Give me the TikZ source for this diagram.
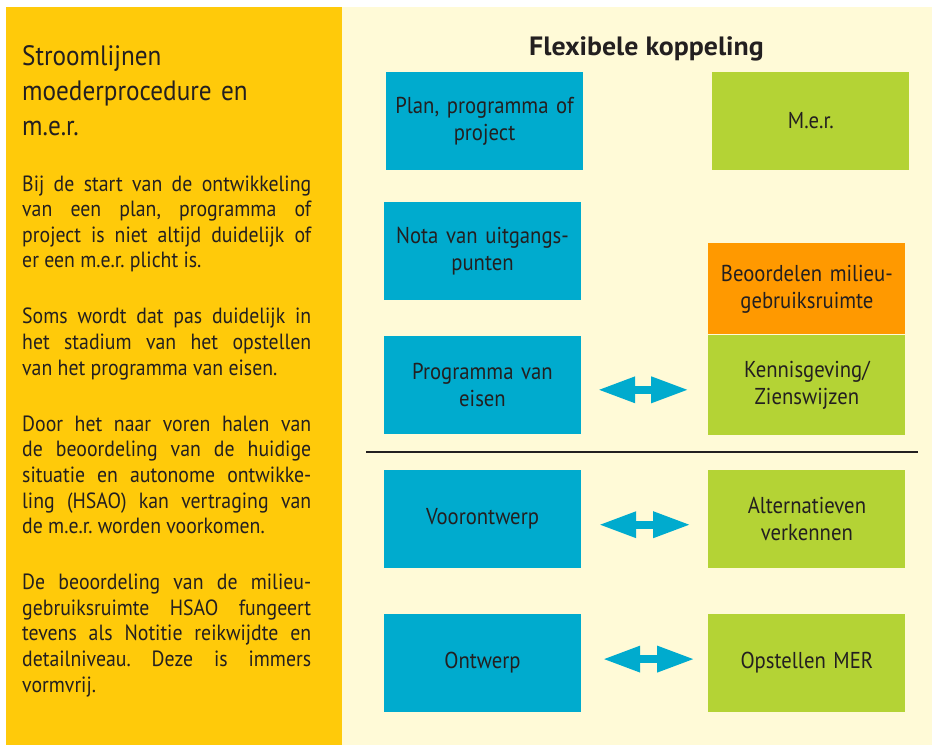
\documentclass[tikz,border=0pt]{standalone}
\usepackage{fontspec}
\setmainfont{PT Sans}[FakeStretch=0.9]
\newfontfamily\headfont{PT Sans}[FakeStretch=1.05]
\usetikzlibrary{positioning,arrows.meta}

\definecolor{panelyellow}{HTML}{FFCA0A}
\definecolor{panelcream}{HTML}{FFFAD7}
\definecolor{planblue}{HTML}{00ABCE}
\definecolor{mergreen}{HTML}{B4D335}
\definecolor{evalorange}{HTML}{FF9900}
\definecolor{textdark}{HTML}{231F20}

\begin{document}
\begin{tikzpicture}[
    x=1pt, y=-1pt,
    box/.style={
        rectangle,
        minimum height=98pt,
        minimum width=197pt,
        text width=190pt,
        inner sep=0pt,
        align=center,
        text=textdark,
        font=\fontsize{23}{27}\selectfont
    },
    bluebox/.style={box, fill=planblue},
    greenbox/.style={box, fill=mergreen},
    orangebox/.style={box, fill=evalorange, minimum height=91pt},
    twoway/.style={
        {Triangle[length=36pt,width=27pt,line width=0pt]}-{Triangle[length=36pt,width=27pt,line width=0pt]},
        line width=8pt,
        planblue
    },
    divider/.style={line width=2.2pt, textdark},
    heading/.style={
        font=\headfont\bfseries\fontsize{26.5}{30}\selectfont,
        text=textdark,
        inner sep=0pt
    },
    paneltitle/.style={
        font=\fontsize{28}{35}\selectfont,
        text=textdark,
        text width=300pt,
        align=left,
        inner sep=0pt
    },
    paneltext/.style={
        font=\fontsize{22}{25.6}\selectfont,
        text=textdark,
        text width=289pt,
        align=justify,
        inner sep=0pt
    }
]
\useasboundingbox (0,0) rectangle (938,745);

% Panels
\fill[panelyellow] (6,7) rectangle (342,745);
\fill[panelcream] (342,7) rectangle (932,745);

% Left panel
\node[paneltitle, anchor=base west] (paneltop) at (22,65) {Stroomlijnen\\moederprocedure en\\m.e.r.};

\node[paneltext, anchor=base west] (panelbody) at (22,191) {%
    \tolerance=10000\hyphenpenalty=10000\frenchspacing
    Bij de start van de ontwikkeling\linebreak
    van een plan, programma of\linebreak
    project is niet altijd duidelijk of\linebreak
    er een m.e.r. plicht is.\par\vspace{30.5pt}
    Soms wordt dat pas duidelijk in\linebreak
    het stadium van het opstellen\linebreak
    van het programma van eisen.\par\vspace{30.5pt}
    Door het naar voren halen van\linebreak
    de beoordeling van de huidige\linebreak
    situatie en autonome ontwikke-\linebreak
    ling (HSAO) kan vertraging van\linebreak
    de m.e.r. worden voorkomen.\par\vspace{30.5pt}
    De beoordeling van de milieu-\linebreak
    gebruiksruimte HSAO fungeert\linebreak
    tevens als Notitie reikwijdte en\linebreak
    detailniveau. Deze is immers\linebreak
    vormvrij.};

% Heading
\node[heading, anchor=base] (koppeling) at (646.5,55) {Flexibele koppeling};

% Procedure column
\node[bluebox] (plan) at (484.5,121) {Plan, programma of\\project};
\node[bluebox, below=32pt of plan, xshift=-2pt] (nota) {Nota van uitgangs-\\punten};
\node[bluebox, below=35pt of nota] (pve) {Programma van\\eisen};
\node[bluebox, below=36pt of pve] (voor) {Voorontwerp};
\node[bluebox, below=45pt of voor] (ontw) {Ontwerp};

% M.e.r. column
\node[greenbox, right=129pt of plan] (mer) {M.e.r.};
\node[greenbox, right=127pt of pve, minimum height=100pt] (kennis) {Kennisgeving/\\Zienswijzen};
\node[orangebox, above=0pt of kennis] (beoord) {Beoordelen milieu-\\gebruiksruimte};
\node[greenbox, right=127pt of voor] (alt) {Alternatieven\\verkennen};
\node[greenbox, right=127pt of ontw] (opst) {Opstellen MER};

% Separator
\coordinate (sepL) at (366,452);
\coordinate (sepR) at (918,452);
\draw[divider] (sepL) -- (sepR);

% Arrows
\draw[twoway, shorten <=18pt, shorten >=21pt] ([yshift=-5pt]pve.east) -- ([yshift=-5pt]kennis.west);
\draw[twoway, shorten <=19pt, shorten >=19pt] ([yshift=-5.5pt]voor.east) -- ([yshift=-5.5pt]alt.west);
\draw[twoway, shorten <=23pt, shorten >=15pt] ([yshift=3.5pt]ontw.east) -- ([yshift=3.5pt]opst.west);

\end{tikzpicture}
\end{document}
